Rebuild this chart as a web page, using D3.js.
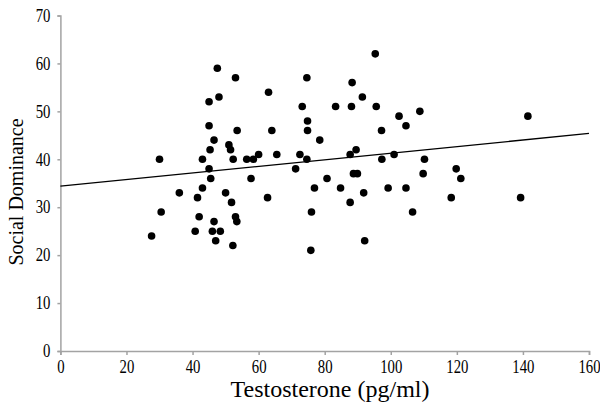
<!DOCTYPE html>
<html>
<head>
<meta charset="utf-8">
<script src="https://cdn.jsdelivr.net/npm/d3@7"></script>
<style>
  html, body { margin: 0; padding: 0; background: #fff; }
  svg { display: block; }
  svg text { font-family: "Liberation Serif", "Times New Roman", serif !important; }
</style>
</head>
<body>
<svg id="chart" width="600" height="403"></svg>
<script>
// Data
const testosterone = [27.6,30,30.5,36,40.8,41.5,42,43,43,45,45,45.3,45,45.5,46.5,46.5,46,47,47.5,48,48.4,50,51,51.5,51.8,52.3,52.2,53,53.5,53,53.4,56.4,57.7,58.4,60,62.7,63,64,65.5,71.2,72.5,73.2,74.6,74.8,74.8,74.6,75.8,76,76.9,78.5,80.7,83.3,84.8,87.7,87.7,88.1,88.3,88.7,89.9,89.5,91.4,91.8,92.1,95.3,95.6,97.2,97.3,99.2,101,102.5,104.6,104.6,106.6,108.8,109.8,110.2,118.3,119.8,121.2,139.3,141.5];
const dominance = [24,40,29,33,25,32,28,34,40,52,47,42,38,36,44,27,25,23,59,53,25,33,43,42,31,40,22,57,46,28,27,40,36,40,41,32,54,46,41,38,41,51,57,48,46,40,21,29,34,44,36,51,34,41,31,51,56,37,37,42,53,33,23,62,51,46,40,34,41,49,47,34,29,50,37,40,32,38,36,32,49];
const trendX = [0, 160];
const trendY = [34.4, 45.4];
const xTicks = [0,20,40,60,80,100,120,140,160];
const yTicks = [0,10,20,30,40,50,60,70];
const xTitle = "Testosterone (pg/ml)";
const yTitle = "Social Dominance";

const FONT = "Liberation Serif, Times New Roman, serif";
const svg = d3.select("#chart");
const x = d3.scaleLinear().domain([0,160]).range([60.4,589]);
const y = d3.scaleLinear().domain([0,70]).range([351,15.5]);
const axisColor = "#a3a3a3";

// X axis
const gx = svg.append("g").attr("transform", `translate(0,${y(0)})`)
  .call(d3.axisBottom(x).tickValues(xTicks).tickSize(4).tickPadding(5).tickFormat(d3.format("d")))
  .attr("font-family", FONT).attr("font-size", 18);
gx.select(".domain").attr("stroke", axisColor).attr("stroke-width", 1.5);
gx.selectAll(".tick line").attr("stroke", axisColor).attr("stroke-width", 1.5);
gx.selectAll(".tick text").attr("fill", "#000").attr("transform", "scale(0.82,1)");

// Y axis
const gy = svg.append("g").attr("transform", `translate(${x(0)},0)`)
  .call(d3.axisLeft(y).tickValues(yTicks).tickSize(3).tickPadding(7).tickFormat(d3.format("d")))
  .attr("font-family", FONT).attr("font-size", 18);
gy.select(".domain").attr("stroke", axisColor).attr("stroke-width", 1.5);
gy.selectAll(".tick line").attr("stroke", axisColor).attr("stroke-width", 1.5);
gy.selectAll(".tick text").attr("fill", "#000")
  .attr("x", 0).attr("transform", "translate(-10,0) scale(0.82,1)");

// Trend line
svg.append("line")
  .attr("x1", x(trendX[0])).attr("y1", y(trendY[0]))
  .attr("x2", x(trendX[1])).attr("y2", y(trendY[1]))
  .attr("stroke", "#000").attr("stroke-width", 1.3);

// Points
svg.append("g").selectAll("circle")
  .data(testosterone.map((t,i) => [t, dominance[i]]))
  .join("circle")
  .attr("cx", d => x(d[0])).attr("cy", d => y(d[1]))
  .attr("r", 3.8).attr("fill", "#000");

// Titles
svg.append("text").attr("x", 330).attr("y", 397).attr("text-anchor", "middle")
  .attr("font-family", FONT).attr("font-size", 24).text(xTitle);
svg.append("text").attr("transform", `translate(23,192) rotate(-90) scale(1,1.1)`).attr("text-anchor", "middle")
  .attr("font-family", FONT).attr("font-size", 20).text(yTitle);
</script>
</body>
</html>
